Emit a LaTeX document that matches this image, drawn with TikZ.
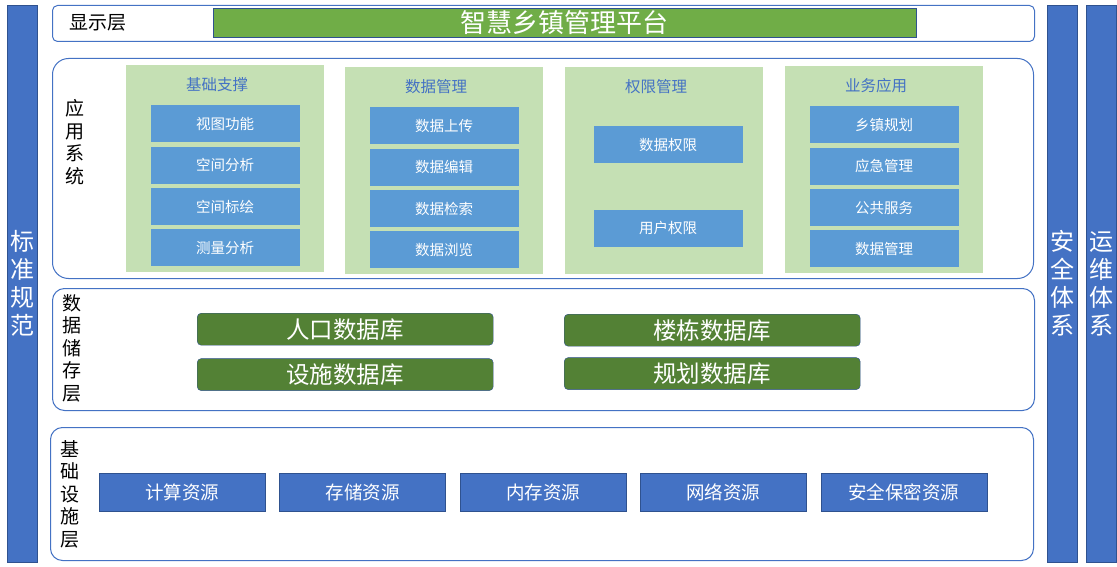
\documentclass[tikz,border=0pt]{standalone}
\usepackage{fontspec}
\setmainfont{Noto Sans CJK SC}
\usepackage{tikz}
\usetikzlibrary{positioning}
\definecolor{barblue}{HTML}{4472C4}
\definecolor{edgeblue}{HTML}{2F528F}
\definecolor{itemblue}{HTML}{5B9BD5}
\definecolor{panelgreen}{HTML}{C5E0B4}
\definecolor{platgreen}{HTML}{70AD47}
\definecolor{dbgreen}{HTML}{538135}
\tikzset{
    side bar/.style={
        rectangle, draw=edgeblue, fill=barblue, text=white,
        minimum width=30pt, minimum height=557pt, inner sep=0pt,
        align=center, font=\fontsize{24}{28}\selectfont
    },
    layer box/.style={
        rectangle, draw=barblue, fill=white, line width=1pt,
        rounded corners=#1, inner sep=0pt
    },
    layer box/.default=12pt,
    layer label/.style={
        align=center, inner sep=0pt, font=\fontsize{19}{22.5}\selectfont
    },
    platform bar/.style={
        rectangle, draw=edgeblue, fill=platgreen, text=white,
        minimum width=703pt, minimum height=29pt, inner sep=0pt,
        font=\fontsize{26}{28}\selectfont
    },
    panel/.style={
        rectangle, fill=panelgreen, inner sep=0pt,
        minimum width=198pt, minimum height=207pt
    },
    panel title/.style={
        inner sep=0pt, text=barblue, font=\fontsize{15.5}{18}\selectfont
    },
    func item/.style={
        rectangle, fill=itemblue, text=white, inner sep=0pt,
        minimum width=149pt, minimum height=37pt,
        font=\fontsize{14.5}{16}\selectfont
    },
    db box/.style={
        rectangle, draw=edgeblue, fill=dbgreen, text=white,
        rounded corners=4pt, inner sep=0pt,
        minimum width=296pt, minimum height=32pt,
        font=\fontsize{23.5}{26}\selectfont
    },
    res box/.style={
        rectangle, draw=edgeblue, fill=barblue, text=white,
        inner sep=0pt, minimum width=166pt, minimum height=38pt,
        font=\fontsize{18.5}{20}\selectfont
    },
}

\begin{document}
\begin{tikzpicture}[x=1pt, y=-1pt]
    \useasboundingbox[fill=white] (0,0) rectangle (1117,567);

    % side bars
    \node[side bar, anchor=north west] (std) at (7,5) {标\\准\\规\\范};
    \node[side bar, anchor=north west] (sec) at (1047,5) {安\\全\\体\\系};
    \node[side bar, anchor=north west] (ops) at (1086,5) {运\\维\\体\\系};

    % display layer
    \node[layer box=5pt, minimum width=982pt, minimum height=36pt, anchor=north west] (showlayer) at (52,5) {};
    \node[layer label] (showlabel) at (98,23) {显示层};
    \node[platform bar, anchor=north west] (platform) at (213,8) {智慧乡镇管理平台};

    % application layer
    \node[layer box=16pt, minimum width=981pt, minimum height=220pt, anchor=north west] (applayer) at (52,58) {};
    \node[layer label] (applabel) at (75,142) {应\\用\\系\\统};

    \node[panel, anchor=north west] (basic) at (126,65) {};
    \node[panel title] (basictitle) at ([xshift=-8pt, yshift=-20pt]basic.north) {基础支撑};
    \node[func item, below=40pt of basic.north] (basic1) {视图功能};
    \node[func item, below=4pt of basic1] (basic2) {空间分析};
    \node[func item, below=4pt of basic2] (basic3) {空间标绘};
    \node[func item, below=4pt of basic3] (basic4) {测量分析};

    \node[panel, anchor=north west] (datamgmt) at (345,67) {};
    \node[panel title] (datamgmttitle) at ([xshift=-8pt, yshift=-20pt]datamgmt.north) {数据管理};
    \node[func item, below=40pt of datamgmt.north] (datamgmt1) {数据上传};
    \node[func item, below=4pt of datamgmt1] (datamgmt2) {数据编辑};
    \node[func item, below=4pt of datamgmt2] (datamgmt3) {数据检索};
    \node[func item, below=4pt of datamgmt3] (datamgmt4) {数据浏览};

    \node[panel, anchor=north west] (auth) at (565,67) {};
    \node[panel title] (authtitle) at ([xshift=-8pt, yshift=-20pt]auth.north) {权限管理};
    \node[func item, below=59pt of auth.north, xshift=4pt] (auth1) {数据权限};
    \node[func item, below=46pt of auth1] (auth2) {用户权限};

    \node[panel, anchor=north west] (business) at (785,66) {};
    \node[panel title] (businesstitle) at ([xshift=-8pt, yshift=-20pt]business.north) {业务应用};
    \node[func item, below=40pt of business.north] (business1) {乡镇规划};
    \node[func item, below=4pt of business1] (business2) {应急管理};
    \node[func item, below=4pt of business2] (business3) {公共服务};
    \node[func item, below=4pt of business3] (business4) {数据管理};

    % data storage layer
    \node[layer box=12pt, minimum width=982pt, minimum height=122pt, anchor=north west] (datalayer) at (52,288) {};
    \node[layer label] (datalabel) at (72,348) {数\\据\\储\\存\\层};
    \node[db box, anchor=north west] (popdb) at (197,313) {人口数据库};
    \node[db box, below=13pt of popdb] (facdb) {设施数据库};
    \node[db box, anchor=north west] (blddb) at (564,314) {楼栋数据库};
    \node[db box, below=11pt of blddb] (plandb) {规划数据库};

    % infrastructure layer
    \node[layer box=12pt, minimum width=983pt, minimum height=133pt, anchor=north west] (baselayer) at (50,427) {};
    \node[layer label] (baselabel) at (70,494) {基\\础\\设\\施\\层};
    \node[res box, anchor=north west] (cpu) at (99,473) {计算资源};
    \node[res box, right=14pt of cpu] (disk) {存储资源};
    \node[res box, right=14pt of disk] (mem) {内存资源};
    \node[res box, right=14pt of mem] (net) {网络资源};
    \node[res box, right=14pt of net] (secure) {安全保密资源};
\end{tikzpicture}
\end{document}
